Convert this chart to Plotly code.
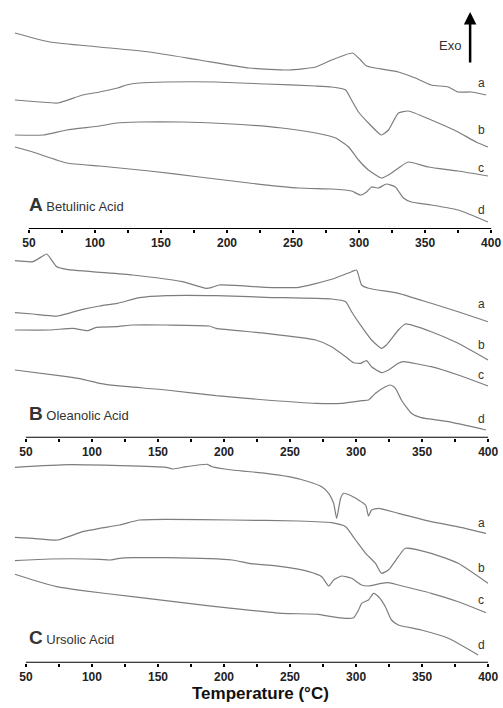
import plotly.graph_objects as go

# -----------------------------------------------------------------------------
# Data (temperature in degC, heat flow in arb. units)
# -----------------------------------------------------------------------------
ticks_major = [50, 100, 150, 200, 250, 300, 350, 400]
ticks_minor = [75, 125, 175, 225, 275, 325, 375]
curve_names = ["a", "b", "c", "d"]

# A - Betulinic acid
ba_a_t = [39.4, 65.8, 103.5, 141.3, 179, 216.7, 246.8, 267.2, 279.3, 295.1, 301.1, 305.7, 329.8, 342.6, 354.7, 367.5, 375, 384.8, 396.2]
ba_a_y = [196, 187, 182, 177, 169, 161, 159, 162, 169, 176, 169, 163, 157, 151, 144, 142, 137, 137, 134]
ba_b_t = [39.4, 58.3, 71.9, 90.7, 103.5, 117.1, 123.9, 133.7, 154.1, 191.8, 229.5, 267.2, 279.3, 289.8, 294.3, 299.6, 307.1, 316.9, 322.2, 329.8, 337.3, 354.7, 375, 388.6, 397.6]
ba_b_y = [129, 127, 126, 134, 137, 141, 144, 146, 147, 147, 145, 143, 142, 139, 129, 117, 106, 94, 99, 116, 118, 109, 97, 87, 82]
ba_c_t = [39.4, 60.6, 78.7, 103.5, 116.4, 133.7, 166.1, 203.8, 241.6, 267.2, 282.3, 292.1, 299.6, 307.1, 316.9, 322.2, 329.8, 337.3, 352.4, 375, 397.6]
ba_c_y = [94, 94, 99, 103, 106, 107, 107, 105, 101, 96, 91, 82, 69, 59, 51, 54, 61, 67, 62, 58, 53]
ba_d_t = [39.4, 53, 78.7, 103.5, 141.3, 179, 216.7, 254.4, 279.3, 294.3, 301.1, 305.7, 309.4, 314.7, 320.7, 327.5, 333.6, 339.6, 354.7, 375, 397.6]
ba_d_y = [82, 77, 66, 63, 58, 52, 46, 41, 40, 38, 34, 37, 42, 41, 45, 42, 31, 27, 24, 19, 7]

# B - Oleanolic acid
oa_a_t = [41.7, 55.3, 62.8, 65.8, 73.4, 80.9, 130.7, 168.4, 186.5, 191, 196.3, 231.7, 256.6, 281.5, 296.6, 300.4, 304.2, 309.4, 332, 356.9, 377.3, 399.9]
oa_a_y = [177, 176, 181.7, 183.7, 171, 168.4, 162.7, 156, 149.4, 150.4, 152.7, 150.4, 150.4, 158.4, 166, 167.7, 152.7, 149.4, 144.4, 134.4, 126, 116]
oa_b_t = [41.7, 55.3, 74.1, 93, 105.8, 119.4, 136, 156.3, 194, 231.7, 281.5, 292.1, 296.6, 304.2, 311.7, 319.2, 323, 332, 337.3, 356.9, 377.3, 399.9]
oa_b_y = [125, 123.7, 121.7, 128.4, 131.7, 134.4, 140, 142, 142, 140.4, 138.7, 136, 126, 111, 97.7, 89.4, 92.7, 107.7, 113.7, 106, 94.4, 77.7]
oa_c_t = [41.7, 68.1, 85.4, 93, 96.8, 103.5, 118.6, 130.7, 156.3, 188.8, 194, 231.7, 269.5, 281.5, 292.1, 298.1, 303.4, 307.9, 311.7, 319.2, 324.5, 332, 335.8, 356.9, 377.3, 399.9]
oa_c_y = [107.7, 107.7, 109.4, 107.7, 107, 110.4, 111, 112.7, 112.7, 111.7, 109.4, 104.4, 97.7, 91, 81, 75, 74.4, 77, 71, 65, 67.7, 74.4, 76, 71, 62.7, 51.7]
oa_d_t = [41.7, 80.9, 93, 105.8, 118.6, 156.3, 194, 231.7, 269.5, 289.1, 299.6, 304.2, 309.4, 314.7, 322.2, 326, 329.8, 334.3, 341.9, 349.4, 369.8, 398.4]
oa_d_y = [67.7, 61, 58.4, 54.4, 52, 47.7, 42, 37.7, 34.4, 34.4, 36, 37, 37.7, 44.4, 51, 52.7, 49.4, 37.7, 24.4, 20, 16, 7.7]

# C - Ursolic acid
ua_a_t = [41.7, 83.2, 156.3, 160.9, 171.4, 187.3, 191, 206.1, 231.7, 249.1, 264.2, 274, 279.3, 283, 285.3, 288.3, 290.6, 296.6, 307.2, 309.4, 311.7, 317, 332, 356.9, 382.6, 398.4]
ua_a_y = [195.4, 198, 195.4, 193.7, 196, 198.4, 196, 192.7, 189.4, 186, 181, 176, 169.4, 159.4, 144.4, 164.4, 169.4, 166.7, 157.7, 146.7, 152.7, 154.4, 149.4, 141, 134.4, 129.4]
ua_b_t = [41.7, 55.3, 74.1, 93, 105.8, 120.9, 136, 156.3, 206.1, 256.6, 281.5, 292.1, 299.6, 307.2, 314.7, 319.2, 324.5, 332, 337.3, 356.9, 377.3, 399.9]
ua_b_y = [125.4, 124.4, 122.7, 131, 134.4, 137.7, 142.7, 143.4, 142.7, 141.7, 140, 136, 122.7, 109.4, 99.4, 89.4, 92.7, 106, 114.4, 109.4, 99.4, 79.4]
ua_c_t = [41.7, 68.1, 105.8, 113.3, 120.9, 130.7, 156.3, 206.1, 218.9, 243.8, 264.2, 274, 279.3, 283, 289.1, 296.6, 304.2, 309.4, 319.2, 324.5, 332, 356.9, 377.3, 398.4]
ua_c_y = [102, 103.7, 103.4, 102.7, 104.4, 105, 105, 102.7, 99.4, 96, 91, 86, 76.7, 82.7, 86.7, 84.4, 77.7, 76.7, 79.4, 80, 77.7, 69.4, 61, 50]
ua_d_t = [41.7, 55.3, 73.4, 93, 130.7, 168.4, 206.1, 243.8, 271.7, 281.5, 292.1, 298.1, 301.9, 304.2, 309.4, 313.2, 317, 322.2, 326.8, 332, 349.4, 369.8, 392.4]
ua_d_y = [88.4, 82.7, 76, 72, 66, 60, 54.4, 49.4, 48.4, 46, 44.4, 45, 52.7, 59.4, 62.7, 69.4, 66, 56, 42.7, 37.7, 32.7, 24.4, 7.7]

panels = [
    ("A", "Betulinic Acid", [(ba_a_t, ba_a_y), (ba_b_t, ba_b_y), (ba_c_t, ba_c_y), (ba_d_t, ba_d_y)]),
    ("B", "Oleanolic Acid", [(oa_a_t, oa_a_y), (oa_b_t, oa_b_y), (oa_c_t, oa_c_y), (oa_d_t, oa_d_y)]),
    ("C", "Ursolic Acid", [(ua_a_t, ua_a_y), (ua_b_t, ua_b_y), (ua_c_t, ua_c_y), (ua_d_t, ua_d_y)]),
]

# -----------------------------------------------------------------------------
# Layout geometry (pixels of the 503x708 page)
# -----------------------------------------------------------------------------
W, H = 503, 708
PX_PER_C = 1.326
X_MIN, X_MAX = 38, 406
x50_px = [29, 26, 26]            # pixel of the 50 degC tick in each panel
axis_px = [229, 437.7, 662.7]    # pixel row of each temperature axis
top_px = [5, 250, 458]           # top of each panel
label_px = [[83, 130, 168, 210], [304, 345, 375, 419], [523, 568, 600, 645]]
title_px = [205, 413, 637]

FONT = "Liberation Sans, Arial, sans-serif"
LINE = "#7d7d7d"


def px_x(p):
    return p / W


def px_y(p):
    return 1 - p / H


def text_note(text, x, y, size, color="#333", xanchor="center"):
    return dict(text=text, x=px_x(x), y=px_y(y), xref="paper", yref="paper",
                xanchor=xanchor, yanchor="middle", showarrow=False,
                font=dict(family=FONT, size=size, color=color))


fig = go.Figure()
annotations = []
shapes = []

for i, (letter, name, curves) in enumerate(panels):
    n = "" if i == 0 else str(i + 1)
    xa, ya = "x" + n, "y" + n

    for label, (t, y) in zip(curve_names, curves):
        fig.add_trace(go.Scatter(
            x=t, y=y, xaxis=xa, yaxis=ya, mode="lines",
            line=dict(color=LINE, width=1.2, shape="spline", smoothing=0.5),
            showlegend=False, hoverinfo="skip",
        ))

    x0 = x50_px[i] + (X_MIN - 50) * PX_PER_C
    x1 = x50_px[i] + (X_MAX - 50) * PX_PER_C
    height = axis_px[i] - top_px[i]
    fig.update_layout({
        "xaxis" + n: dict(
            domain=[px_x(x0), px_x(x1)], range=[X_MIN, X_MAX], anchor=ya,
            tickvals=ticks_major, ticks="outside", ticklen=3, tickwidth=1.5,
            tickcolor="black", showgrid=False, zeroline=False, showline=False,
            minor=dict(tickvals=ticks_minor, ticks="outside", ticklen=3,
                       tickwidth=1.5, tickcolor="black", showgrid=False),
            tickfont=dict(family=FONT, size=12, color="#222", weight="bold"),
        ),
        "yaxis" + n: dict(
            domain=[px_y(axis_px[i]), px_y(top_px[i])], range=[0, height],
            anchor=xa, visible=False, showgrid=False, zeroline=False,
        ),
    })

    # axis line only spans 50-400 degC
    shapes.append(dict(type="line", xref=xa, yref=ya, x0=50, x1=400, y0=0, y1=0,
                       line=dict(color="black", width=2)))

    for label, ly in zip(curve_names, label_px[i]):
        annotations.append(text_note(label, 483, ly, 12))

    annotations.append(text_note(
        f"<b><span style='font-size:19px'>{letter}</span></b> {name}",
        27, title_px[i], 13, xanchor="left"))

# Exo arrow
annotations.append(dict(
    text="", x=px_x(472), y=px_y(12), xref="paper", yref="paper",
    ax=0, ay=52, showarrow=True, arrowhead=2, arrowsize=1, arrowwidth=2.5,
    arrowcolor="black",
))
annotations.append(text_note("Exo", 452, 45, 13))

# axis title
annotations.append(text_note("<b>Temperature (°C)</b>", 262, 693, 17, color="#111"))

fig.update_layout(
    width=W, height=H,
    margin=dict(t=0, b=0, l=0, r=0),
    plot_bgcolor="white", paper_bgcolor="white",
    annotations=annotations, shapes=shapes,
)

fig.write_html(
    "out.html",
    config={"displayModeBar": False},
    post_script="document.body.style.margin='0';document.body.style.overflow='hidden';",
)
